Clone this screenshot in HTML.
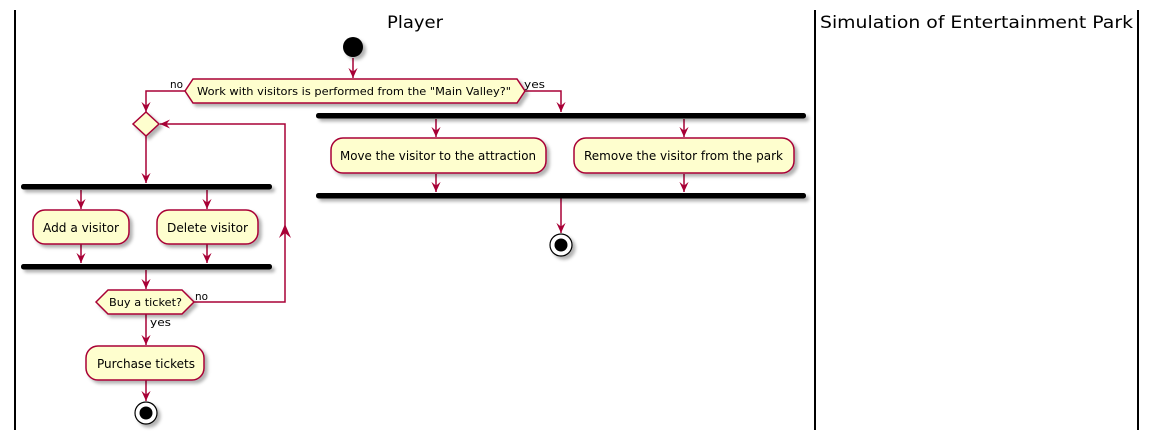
<!DOCTYPE html>
<html><head><meta charset="utf-8"><style>
html,body{margin:0;padding:0;background:#fff;width:1157px;height:439px;overflow:hidden}
svg{display:block}
text{font-family:"DejaVu Sans","Liberation Sans",sans-serif;fill:#000}
</style></head><body>
<svg width="1157" height="439" viewBox="0 0 1157 439" xmlns="http://www.w3.org/2000/svg">
<defs>
<filter id="sh" x="-10%" y="-10%" width="130%" height="160%"><feDropShadow dx="3" dy="3" stdDeviation="1.5" flood-color="#000" flood-opacity="0.3"/></filter>
<marker id="ar" viewBox="0 0 12 12" refX="11" refY="6" markerWidth="11" markerHeight="11" orient="auto" markerUnits="userSpaceOnUse"><path d="M0,1 L11,6 L0,11 L4,6 Z" fill="#A80036"/></marker>
</defs>
<g stroke="#000" stroke-width="2">
<line x1="15" y1="10" x2="15" y2="430"/><line x1="815" y1="10" x2="815" y2="430"/><line x1="1138" y1="10" x2="1138" y2="430"/>
</g>
<text x="387" y="28" font-size="17" textLength="56" lengthAdjust="spacingAndGlyphs">Player</text>
<text x="820" y="28" font-size="17" textLength="313" lengthAdjust="spacingAndGlyphs">Simulation of Entertainment Park</text>

<g stroke="#A80036" stroke-width="1.5" fill="none" marker-end="url(#ar)">
<path d="M353,58 V78"/>
<path d="M185,91 H146 V112"/>
<path d="M525,91 H561 V112"/>
<path d="M436,119 V137"/><path d="M684,119 V137"/>
<path d="M436,174 V192"/><path d="M684,174 V192"/>
<path d="M561,198 V233"/>
<path d="M146,136 V183"/>
<path d="M81,190 V209"/><path d="M207,190 V209"/>
<path d="M81,244 V263"/><path d="M207,244 V263"/>
<path d="M146,270 V289"/>
<path d="M194,302 H285 V124 H160"/>
<path d="M146,314 V345"/>
<path d="M146,380 V401"/>
</g>
<path d="M279,238 L285,224 L291,238 L285,233 Z" fill="#A80036"/>

<g filter="url(#sh)">
<circle cx="353" cy="47" r="10" fill="#000"/>
<polygon points="185,91 193,79 517,79 525,91 517,103 193,103" fill="#FEFECE" stroke="#A80036" stroke-width="1.5"/>
<polygon points="146,112 159,124 146,136 133,124" fill="#FEFECE" stroke="#A80036" stroke-width="1.5"/>
<rect x="316" y="113" width="490" height="5.5" rx="2.5" fill="#000"/>
<rect x="316" y="193" width="490" height="5.5" rx="2.5" fill="#000"/>
<rect x="331" y="138" width="215" height="35" rx="12" fill="#FEFECE" stroke="#A80036" stroke-width="1.5"/>
<rect x="574" y="138" width="220" height="35" rx="12" fill="#FEFECE" stroke="#A80036" stroke-width="1.5"/>
<circle cx="561" cy="245" r="11" fill="#fff" stroke="#000" stroke-width="1.2"/>
<circle cx="561" cy="245" r="6.5" fill="#000"/>
<rect x="21" y="184" width="251" height="5.5" rx="2.5" fill="#000"/>
<rect x="21" y="264" width="251" height="5.5" rx="2.5" fill="#000"/>
<rect x="33" y="210" width="96" height="34" rx="12" fill="#FEFECE" stroke="#A80036" stroke-width="1.5"/>
<rect x="157" y="210" width="101" height="34" rx="12" fill="#FEFECE" stroke="#A80036" stroke-width="1.5"/>
<polygon points="96,302 108,290 182,290 194,302 182,314 108,314" fill="#FEFECE" stroke="#A80036" stroke-width="1.5"/>
<rect x="86" y="346" width="118" height="34" rx="12" fill="#FEFECE" stroke="#A80036" stroke-width="1.5"/>
<circle cx="146" cy="413" r="11" fill="#fff" stroke="#000" stroke-width="1.2"/>
<circle cx="146" cy="413" r="6.5" fill="#000"/>
</g>

<text x="197" y="95" font-size="11" textLength="314" lengthAdjust="spacingAndGlyphs">Work with visitors is performed from the "Main Valley?"</text>
<text x="170" y="88" font-size="11" textLength="13" lengthAdjust="spacingAndGlyphs">no</text>
<text x="524" y="88" font-size="11" textLength="21" lengthAdjust="spacingAndGlyphs">yes</text>
<text x="340" y="160" font-size="12" textLength="196" lengthAdjust="spacingAndGlyphs">Move the visitor to the attraction</text>
<text x="584" y="160" font-size="12" textLength="199" lengthAdjust="spacingAndGlyphs">Remove the visitor from the park</text>
<text x="43" y="232" font-size="12" textLength="76" lengthAdjust="spacingAndGlyphs">Add a visitor</text>
<text x="167" y="232" font-size="12" textLength="81" lengthAdjust="spacingAndGlyphs">Delete visitor</text>
<text x="109" y="306" font-size="11" textLength="73" lengthAdjust="spacingAndGlyphs">Buy a ticket?</text>
<text x="195" y="300" font-size="11" textLength="13" lengthAdjust="spacingAndGlyphs">no</text>
<text x="150" y="326" font-size="11" textLength="21" lengthAdjust="spacingAndGlyphs">yes</text>
<text x="97" y="368" font-size="12" textLength="98" lengthAdjust="spacingAndGlyphs">Purchase tickets</text>
</svg>
</body></html>
